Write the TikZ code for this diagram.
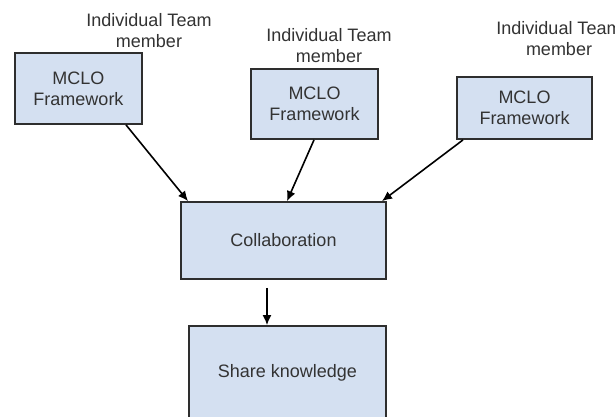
\documentclass[tikz,border=0pt]{standalone}
\usepackage{fontspec}
\setmainfont{Liberation Sans}
\usetikzlibrary{arrows.meta,calc}
\definecolor{boxfill}{HTML}{D4E0F1}
\definecolor{boxline}{HTML}{2E2E2E}
\definecolor{txt}{HTML}{333333}
\begin{document}
\begin{tikzpicture}[x=1pt,y=-1pt,
  box/.style={draw=boxline,fill=boxfill,line width=1.8pt,inner sep=0pt,align=center,text=txt,
    font=\fontsize{18}{21}\selectfont},
  lbl/.style={inner sep=0pt,align=center,text=txt,font=\fontsize{18}{21}\selectfont},
  conn/.style={line width=1.6pt,black,-{Latex[length=10pt,width=9pt]}}]
\useasboundingbox (0,0) rectangle (615,416);
\clip (0,0) rectangle (615,416);
\fill[white] (0,0) rectangle (615,416);
\node[box,minimum width=127pt,minimum height=71pt] (b1) at (78.5,88.5) {MCLO\\Framework};
\node[box,minimum width=127pt,minimum height=70pt] (b2) at (314.5,104) {MCLO\\Framework};
\node[box,minimum width=135pt,minimum height=62pt] (b3) at (524.5,108) {MCLO\\Framework};
\node[box,minimum width=205pt,minimum height=77pt] (col) at (283.5,240.5) {Collaboration};
\node[box,minimum width=197pt,minimum height=94pt] (sh) at (287.5,373) {Share knowledge};
\node[lbl] (l1) at (149,30.6) {Individual Team\\member};
\node[lbl] (l2) at (329,45.6) {Individual Team\\member};
\node[lbl] (l3) at (559,39) {Individual Team\\member};
\draw[conn] ([xshift=47.5pt]b1.south) -- ([xshift=-95.5pt]col.north);
\draw[conn] ([xshift=-0.5pt]b2.south) -- ([xshift=3.5pt]col.north);
\draw[conn] ([xshift=-61.5pt]b3.south) -- ([xshift=98.5pt]col.north);
\draw[conn] ([xshift=-16.5pt,yshift=-8pt]col.south) -- ([xshift=-20.5pt]sh.north);
\end{tikzpicture}
\end{document}
